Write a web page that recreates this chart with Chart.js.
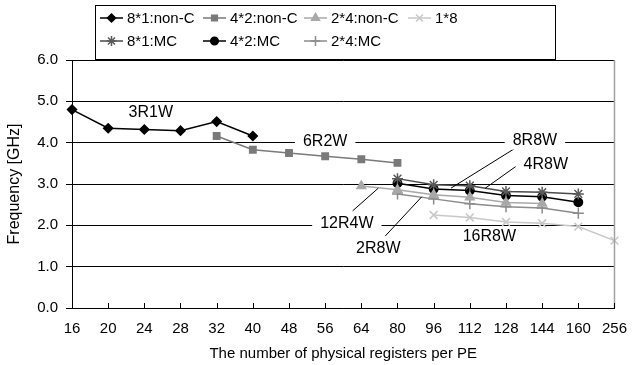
<!DOCTYPE html>
<html>
<head>
<meta charset="utf-8">
<script src="https://cdn.jsdelivr.net/npm/chart.js@4/dist/chart.umd.min.js"></script>
<style>
  html, body { margin: 0; padding: 0; background: #fff; }
  #wrap { width: 639px; height: 365px; position: relative; }
</style>
</head>
<body>
<div id="wrap"><canvas id="chart" width="639" height="365"></canvas></div>
<script>
const categories = ["16", "20", "24", "28", "32", "40", "48", "56", "64", "80", "96", "112", "128", "144", "160", "256"];

const nonC8x1 = [4.80, 4.35, 4.32, 4.29, 4.51, 4.16, null, null, null, null, null, null, null, null, null, null];
const nonC4x2 = [null, null, null, null, 4.16, 3.83, 3.75, 3.67, 3.60, 3.51, null, null, null, null, null, null];
const nonC2x4 = [null, null, null, null, null, null, null, null, 2.95, 2.86, 2.74, 2.68, 2.55, 2.53, null, null];
const one1x8  = [null, null, null, null, null, null, null, null, null, null, 2.25, 2.19, 2.08, 2.05, 1.97, 1.63];
const mc8x1   = [null, null, null, null, null, null, null, null, null, 3.13, 2.98, 2.96, 2.82, 2.80, 2.76, null];
const mc4x2   = [null, null, null, null, null, null, null, null, null, 3.02, 2.88, 2.84, 2.72, 2.69, 2.56, null];
const mc2x4   = [null, null, null, null, null, null, null, null, null, 2.76, 2.64, 2.52, 2.45, 2.42, 2.29, null];

const yTicks = [0, 1, 2, 3, 4, 5, 6];

// text notes, placed in data space (category index, GHz)
const notes = [
  { text: "3R1W",  i: 2.18,  v: 4.72 },
  { text: "6R2W",  i: 7.0,   v: 4.03 },
  { text: "8R8W",  i: 12.8,  v: 4.05 },
  { text: "4R8W",  i: 13.1,  v: 3.46 },
  { text: "12R4W", i: 7.6,   v: 2.05 },
  { text: "2R8W",  i: 8.47,  v: 1.43 },
  { text: "16R8W", i: 11.54, v: 1.72 }
];
const leaders = [
  [12.39, 3.94, 10.48, 2.90],
  [12.41, 3.51, 11.43, 2.90],
  [7.76, 2.35, 8.47, 2.90],
  [8.66, 1.74, 9.67, 2.69]
];

const FONT = "'Liberation Sans', Arial, sans-serif";

function ds(label, data, color, lineColor, style, radius) {
  return {
    label, data,
    borderColor: lineColor, backgroundColor: color,
    pointBorderColor: color, pointBackgroundColor: color,
    pointStyle: style, pointRadius: radius, pointBorderWidth: 1.5,
    borderWidth: 1.5, tension: 0, fill: false
  };
}

const datasets = [
  ds("8*1:non-C", nonC8x1, "#000000", "#000000", "rectRot", 4.5),
  ds("4*2:non-C", nonC4x2, "#7a7a7a", "#7a7a7a", "rect", 4.5),
  ds("2*4:non-C", nonC2x4, "#a8a8a8", "#a8a8a8", "triangle", 5),
  ds("1*8", one1x8, "#c8c8c8", "#c8c8c8", "crossRot", 5.5),
  ds("8*1:MC", mc8x1, "#5a5a5a", "#4a4a4a", "star", 5.5),
  ds("4*2:MC", mc4x2, "#000000", "#000000", "circle", 4.2),
  ds("2*4:MC", mc2x4, "#8c8c8c", "#8c8c8c", "cross", 5.5)
];

const extras = {
  id: "extras",
  afterDraw(chart) {
    const { ctx, chartArea: a, scales: { x, y } } = chart;
    const x0 = x.getPixelForValue(0), x1 = x.getPixelForValue(categories.length - 1);
    const px = i => x0 + (x1 - x0) * i / (categories.length - 1);
    ctx.save();
    // right border
    ctx.strokeStyle = "#a0a0a0"; ctx.lineWidth = 1.5;
    ctx.beginPath(); ctx.moveTo(a.right, a.top); ctx.lineTo(a.right, a.bottom); ctx.stroke();
    // x tick marks pointing inward
    ctx.strokeStyle = "#000"; ctx.lineWidth = 1;
    categories.forEach((c, k) => {
      const xx = Math.round(px(k)) + 0.5;
      ctx.beginPath(); ctx.moveTo(xx, a.bottom); ctx.lineTo(xx, a.bottom - 5); ctx.stroke();
    });
    // leader lines
    ctx.strokeStyle = "#000"; ctx.lineWidth = 1;
    leaders.forEach(l => {
      ctx.beginPath();
      ctx.moveTo(px(l[0]), y.getPixelForValue(l[1]));
      ctx.lineTo(px(l[2]), y.getPixelForValue(l[3]));
      ctx.stroke();
    });
    // notes
    ctx.font = "16px " + FONT;
    ctx.textAlign = "center"; ctx.textBaseline = "middle";
    notes.forEach(n => {
      const cx = px(n.i), cy = y.getPixelForValue(n.v);
      const w = ctx.measureText(n.text).width;
      ctx.fillStyle = "#fff";
      ctx.fillRect(cx - w / 2 - 8, cy - 9, w + 16, 18);
      ctx.fillStyle = "#000";
      ctx.fillText(n.text, cx, cy);
    });
    // legend box
    const bx = 95, by = 5, bw = 460, bh = 54;
    ctx.fillStyle = "#fff"; ctx.fillRect(bx, by, bw, bh);
    ctx.strokeStyle = "#000"; ctx.lineWidth = 1;
    ctx.strokeRect(bx + 0.5, by + 0.5, bw, bh);
    const cols = [100, 203, 304, 408];
    const rows = [18, 41];
    ctx.font = "15px " + FONT;
    chart.data.datasets.forEach((d, k) => {
      const r = k < 4 ? 0 : 1, c = k < 4 ? k : k - 4;
      const lx = cols[c], ly = rows[r];
      ctx.strokeStyle = d.borderColor; ctx.lineWidth = 1.5;
      ctx.beginPath(); ctx.moveTo(lx, ly); ctx.lineTo(lx + 23, ly); ctx.stroke();
      ctx.fillStyle = d.pointBackgroundColor; ctx.strokeStyle = d.pointBorderColor;
      Chart.helpers.drawPoint(ctx, {
        pointStyle: d.pointStyle, radius: d.pointRadius * 0.9, rotation: 0, borderWidth: 1.5
      }, lx + 11.5, ly);
      ctx.fillStyle = "#000";
      ctx.textAlign = "left";
      ctx.fillText(d.label, lx + 27, ly + 1);
    });
    ctx.restore();
  }
};

new Chart(document.getElementById("chart"), {
  type: "line",
  data: { labels: categories, datasets },
  options: {
    responsive: false,
    animation: false,
    layout: { padding: { top: 60, right: 16, left: 0, bottom: 0 } },
    plugins: { legend: { display: false }, tooltip: { enabled: false } },
    scales: {
      x: {
        offset: false,
        grid: { display: false, drawTicks: false },
        border: { color: "#000", width: 1 },
        ticks: { color: "#000", font: { family: FONT, size: 15 }, padding: 12, maxRotation: 0, autoSkip: false },
        title: { display: true, text: "The number of physical registers per PE", color: "#000", font: { family: FONT, size: 15 }, padding: { top: 2, bottom: 2 } },
        afterFit: s => { s.height = 57; }
      },
      y: {
        min: 0, max: 6,
        afterBuildTicks: s => { s.ticks = yTicks.map(v => ({ value: v })); },
        grid: { color: "#000", lineWidth: 1, tickLength: 6 },
        border: { color: "#000", width: 1 },
        ticks: { color: "#000", font: { family: FONT, size: 15 }, padding: 8, callback: v => v.toFixed(1) },
        title: { display: true, text: "Frequency [GHz]", color: "#000", font: { family: FONT, size: 16 }, padding: { top: 5, bottom: 0 } },
        afterFit: s => { s.width = 72; }
      }
    }
  },
  plugins: [extras]
});
</script>
</body>
</html>
